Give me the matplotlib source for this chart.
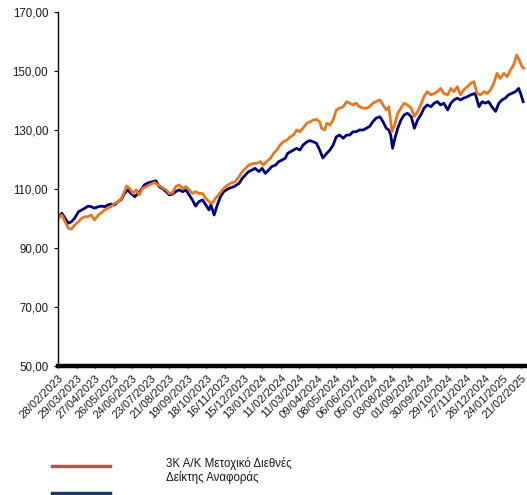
import matplotlib
matplotlib.use("Agg")
import matplotlib.pyplot as plt
from matplotlib.lines import Line2D
import pandas as pd

plt.rcParams['font.family'] = ['Liberation Sans', 'DejaVu Sans']

start_date = "2023-02-28"

# days since start and index values (base 100)
fund_days = [0, 6, 11, 16, 21, 26, 32, 37, 42, 47, 52, 57, 63, 68, 73, 78, 83, 88, 94, 99,
             104, 107, 112, 117, 122, 127, 132, 138, 143, 151, 156, 161, 169, 174, 179, 184, 189, 195, 200, 205,
             210, 215, 220, 226, 231, 236, 241, 246, 251, 257, 262, 270, 277, 283, 288, 293, 298, 306, 311, 316,
             321, 326, 332, 337, 342, 347, 352, 358, 363, 368, 373, 378, 383, 389, 394, 399, 404, 409, 412, 417,
             420, 425, 430, 435, 440, 446, 451, 456, 461, 466, 471, 477, 482, 487, 492, 497, 503, 508, 513, 517,
             519, 522, 526, 531, 536, 541, 546, 552, 557, 562, 567, 572, 577, 583, 588, 593, 598, 603, 609, 614,
             619, 624, 629, 634, 640, 645, 650, 655, 660, 666, 671, 676, 681, 686, 691, 697, 702, 707, 712, 717,
             721, 725, 728]
fund_values = [100.0, 101.2, 98.9, 96.7, 96.4, 97.8, 98.9, 100.1, 100.6, 100.6, 101.2, 99.5, 101.2, 102.0, 102.9, 103.5, 104.0, 105.1, 105.7, 106.8,
               109.1, 111.0, 110.2, 108.5, 109.7, 108.0, 110.2, 110.8, 111.4, 112.2, 111.4, 110.8, 109.7, 108.5, 108.7, 110.8, 111.4, 110.2, 110.8, 109.7,
               108.5, 109.1, 108.5, 108.5, 106.8, 105.7, 105.1, 106.8, 108.0, 109.7, 110.8, 112.0, 112.5, 114.2, 115.9, 117.0, 118.1, 118.7, 118.7, 119.3,
               118.1, 119.3, 120.4, 122.1, 123.2, 124.9, 126.0, 126.6, 127.7, 128.3, 130.0, 129.4, 130.6, 132.3, 132.8, 133.4, 133.6, 132.8, 130.6, 130.0,
               132.3, 131.7, 133.4, 136.8, 137.4, 137.9, 139.6, 139.1, 138.5, 139.1, 137.9, 137.4, 137.4, 137.9, 139.1, 139.6, 140.2, 138.5, 136.8, 137.9,
               134.5, 129.4, 131.7, 135.7, 137.4, 139.1, 138.5, 137.4, 134.6, 136.2, 138.5, 141.3, 143.0, 141.9, 142.4, 143.0, 144.1, 142.4, 141.9, 144.1,
               143.0, 144.7, 141.9, 143.6, 144.7, 145.8, 146.4, 142.4, 141.9, 143.0, 142.4, 143.6, 145.8, 149.2, 147.5, 149.2, 148.1, 150.3, 152.0, 155.4,
               153.7, 151.5, 150.9]

bench_days = [0, 6, 11, 16, 21, 26, 32, 37, 42, 47, 52, 57, 63, 68, 73, 78, 83, 88, 94, 99,
              104, 109, 114, 120, 125, 130, 135, 140, 148, 153, 158, 163, 169, 174, 179, 184, 189, 195, 200, 205,
              210, 215, 220, 226, 231, 236, 239, 244, 249, 254, 259, 267, 275, 283, 288, 293, 298, 303, 308, 314,
              319, 324, 329, 334, 340, 345, 350, 355, 359, 363, 368, 373, 378, 383, 389, 394, 399, 404, 409, 414,
              420, 425, 430, 435, 440, 446, 451, 456, 461, 466, 471, 477, 482, 487, 492, 497, 503, 508, 513, 517,
              520, 523, 526, 531, 536, 541, 546, 552, 557, 562, 567, 572, 577, 583, 588, 593, 598, 603, 609, 614,
              619, 624, 629, 634, 640, 645, 652, 658, 663, 668, 673, 678, 684, 689, 694, 699, 704, 709, 715, 720,
              723, 727]
bench_values = [100.0, 101.8, 100.1, 98.4, 98.9, 100.1, 102.3, 102.9, 103.5, 104.2, 104.0, 103.5, 104.0, 104.2, 104.0, 104.6, 104.9, 104.6, 105.7, 106.5,
                108.5, 109.7, 108.5, 107.4, 108.5, 109.7, 111.4, 112.0, 112.5, 112.8, 110.8, 110.2, 109.1, 108.0, 108.3, 109.1, 109.7, 109.1, 109.7, 108.0,
                106.3, 104.2, 105.7, 106.3, 104.6, 102.9, 104.6, 101.2, 104.6, 107.4, 109.1, 110.2, 110.8, 111.9, 113.6, 114.8, 115.9, 116.4, 117.0, 115.9,
                117.0, 115.3, 116.4, 117.6, 118.1, 119.3, 119.8, 120.4, 122.1, 122.6, 123.2, 123.8, 123.2, 124.9, 126.0, 126.4, 126.0, 125.5, 123.2, 120.5,
                122.1, 123.2, 124.9, 127.7, 128.3, 127.2, 128.3, 128.3, 129.4, 129.4, 130.0, 130.0, 130.6, 131.2, 132.8, 134.0, 134.5, 132.8, 130.6, 130.0,
                128.3, 123.8, 126.7, 130.6, 133.4, 135.1, 135.7, 134.5, 130.6, 133.4, 135.1, 137.4, 138.5, 137.9, 139.1, 139.6, 138.5, 139.1, 136.8, 139.1,
                140.2, 140.8, 140.2, 140.8, 141.3, 141.9, 142.4, 137.9, 139.6, 139.1, 139.6, 137.9, 136.3, 139.1, 140.2, 140.8, 141.9, 142.4, 143.0, 144.1,
                142.4, 139.6]

tick_labels = ["28/02/2023", "29/03/2023", "27/04/2023", "26/05/2023", "24/06/2023", "23/07/2023",
               "21/08/2023", "19/09/2023", "18/10/2023", "16/11/2023", "15/12/2023", "13/01/2024",
               "11/02/2024", "11/03/2024", "09/04/2024", "08/05/2024", "06/06/2024", "05/07/2024",
               "03/08/2024", "01/09/2024", "30/09/2024", "29/10/2024", "27/11/2024", "26/12/2024",
               "24/01/2025", "21/02/2025"]
y_ticks = [50, 70, 90, 110, 130, 150, 170]
series_names = ["3K Α/Κ Μετοχικό Διεθνές", "Δείκτης Αναφοράς"]

t0 = pd.Timestamp(start_date)
fund_dates = t0 + pd.to_timedelta(fund_days, unit="D")
bench_dates = t0 + pd.to_timedelta(bench_days, unit="D")
tick_dates = pd.to_datetime(tick_labels, format="%d/%m/%Y")

W, H = 527, 495
fig = plt.figure(figsize=(W / 100, H / 100), dpi=100)
ax = fig.add_axes([58 / W, 1 - 366 / H, (W - 58) / W, (366 - 12) / H])

ax.plot(bench_dates, bench_values, color="#000080", lw=2.0, solid_joinstyle="round")
ax.plot(fund_dates, fund_values, color="#E8771E", lw=2.0, solid_joinstyle="round")

ax.set_ylim(50, 170)
ax.set_yticks(y_ticks)
ax.set_yticklabels([f"{v:.2f}".replace(".", ",") for v in y_ticks], fontsize=8.3, color="#1a1a1a")
ax.set_xlim(t0, t0 + pd.Timedelta(days=733))
ax.set_xticks(tick_dates)
ax.set_xticklabels(tick_labels, rotation=45, ha="right", rotation_mode="anchor",
                   fontsize=8.1, color="#1a1a1a")

for s in ["top", "right"]:
    ax.spines[s].set_visible(False)
ax.spines["left"].set_linewidth(1.0)
ax.spines["bottom"].set_linewidth(3.2)
ax.tick_params(axis="y", length=3, width=0.8, pad=4)
ax.tick_params(axis="x", length=2, width=0.8, color="#888888", pad=3)

# legend drawn manually
fig.add_artist(Line2D([52 / W, 110 / W], [1 - 466 / H] * 2, transform=fig.transFigure,
                      color="#C0504D", lw=2.5))
fig.add_artist(Line2D([52 / W, 110 / W], [1 - 493 / H] * 2, transform=fig.transFigure,
                      color="#1F3864", lw=2.5))
fig.text(166 / W, 1 - 464 / H, series_names[0], fontsize=8.3, va="center", ha="left", color="#1a1a1a")
fig.text(166 / W, 1 - 478 / H, series_names[1], fontsize=8.3, va="center", ha="left", color="#1a1a1a")

fig.savefig("out.png", dpi=100)
